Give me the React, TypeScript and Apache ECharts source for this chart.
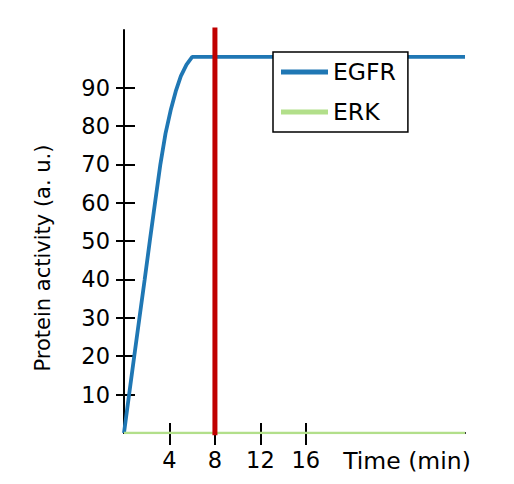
import React, { useEffect, useRef } from "react";
import * as echarts from "echarts";

const timePoints = [0, 0.45, 0.9, 1.36, 1.82, 2.27, 2.73, 3.2, 3.65, 4.1, 4.55, 5.0, 5.5, 6.0, 30];
const egfrValues = [0, 10, 20, 30, 40, 50, 60, 70, 78, 84, 89, 93, 96, 98, 98];
const erkTimes = [0, 30];
const erkValues = [0, 0];
const stimulusTimes = [8, 8];
const stimulusValues = [0, 105.5];
const xTicks = [4, 8, 12, 16];
const yTicks = [10, 20, 30, 40, 50, 60, 70, 80, 90];
const xLabel = "Time (min)";
const yLabel = "Protein activity (a. u.)";
const seriesNames = ["EGFR", "ERK"];

const FONT = "DejaVu Sans";
const FS = 22.5;
const FS_L = 23.5;
const FS_Y = 21;

export default function App() {
  const ref = useRef<HTMLDivElement>(null);
  useEffect(() => {
    document.body.style.margin = "0";
    const chart = echarts.init(ref.current!, null, { renderer: "svg" });
    const axisLineStyle = { color: "#000", width: 2 };
    const tickStyle = { color: "#000", width: 2 };
    const xBase = {
      type: "value",
      min: 0,
      max: 30,
      position: "bottom",
      splitLine: { show: false },
    };
    const yBase = {
      type: "value",
      min: 0,
      max: 105,
      position: "left",
      splitLine: { show: false },
    };
    chart.setOption({
      animation: false,
      backgroundColor: "#fff",
      textStyle: { fontFamily: FONT },
      grid: { left: 124, top: 30, width: 341, height: 403, outerBoundsMode: "none" },
      xAxis: [
        {
          ...xBase,
          axisLine: { show: true, lineStyle: axisLineStyle },
          axisTick: { show: true, inside: false, length: 12, lineStyle: tickStyle, customValues: xTicks },
          axisLabel: { show: true, customValues: xTicks, color: "#000", fontSize: FS, fontFamily: FONT, margin: 15 },
        },
        {
          ...xBase,
          axisLine: { show: false },
          axisTick: { show: true, inside: true, length: 10, lineStyle: tickStyle, customValues: xTicks },
          axisLabel: { show: false },
        },
      ],
      yAxis: [
        {
          ...yBase,
          axisLine: { show: true, lineStyle: axisLineStyle },
          axisTick: { show: true, inside: false, length: 8, lineStyle: tickStyle, customValues: yTicks },
          axisLabel: { show: true, customValues: yTicks, color: "#000", fontSize: FS, fontFamily: FONT, margin: 14 },
        },
        {
          ...yBase,
          axisLine: { show: false },
          axisTick: { show: true, inside: true, length: 11, lineStyle: tickStyle, customValues: yTicks },
          axisLabel: { show: false },
        },
      ],
      legend: {
        data: seriesNames,
        orient: "vertical",
        left: 273,
        top: 52,
        icon: "rect",
        itemWidth: 47,
        itemHeight: 5,
        itemGap: 16,
        padding: [8, 12, 8, 8],
        borderColor: "#000",
        borderWidth: 1.5,
        backgroundColor: "#fff",
        textStyle: { fontSize: FS_L, color: "#000", fontFamily: FONT, lineHeight: 24 },
      },
      graphic: [
        {
          type: "text",
          x: 43,
          y: 258,
          rotation: Math.PI / 2,
          style: {
            text: yLabel,
            fontSize: FS_Y,
            fontFamily: FONT,
            fill: "#000",
            align: "center",
            verticalAlign: "middle",
          },
        },
        {
          type: "text",
          x: 407,
          y: 461,
          style: {
            text: xLabel,
            fontSize: FS_L,
            fontFamily: FONT,
            fill: "#000",
            align: "center",
            verticalAlign: "middle",
          },
        },
      ],
      series: [
        {
          name: seriesNames[0],
          type: "line",
          data: timePoints.map((t, i) => [t, egfrValues[i]]),
          showSymbol: false,
          symbol: "none",
          lineStyle: { color: "#1f77b4", width: 3.8 },
          itemStyle: { color: "#1f77b4" },
          z: 3,
        },
        {
          name: seriesNames[1],
          type: "line",
          data: erkTimes.map((t, i) => [t, erkValues[i]]),
          showSymbol: false,
          symbol: "none",
          lineStyle: { color: "#b2df8a", width: 2.5 },
          itemStyle: { color: "#b2df8a" },
          z: 3,
        },
        {
          name: "stimulus",
          type: "line",
          data: stimulusTimes.map((t, i) => [t, stimulusValues[i]]),
          showSymbol: false,
          symbol: "none",
          lineStyle: { color: "#c00000", width: 5, cap: "square" },
          itemStyle: { color: "#c00000" },
          z: 4,
        },
      ],
    });
    return () => chart.dispose();
  }, []);
  return <div ref={ref} style={{ width: 514, height: 484 }} />;
}
